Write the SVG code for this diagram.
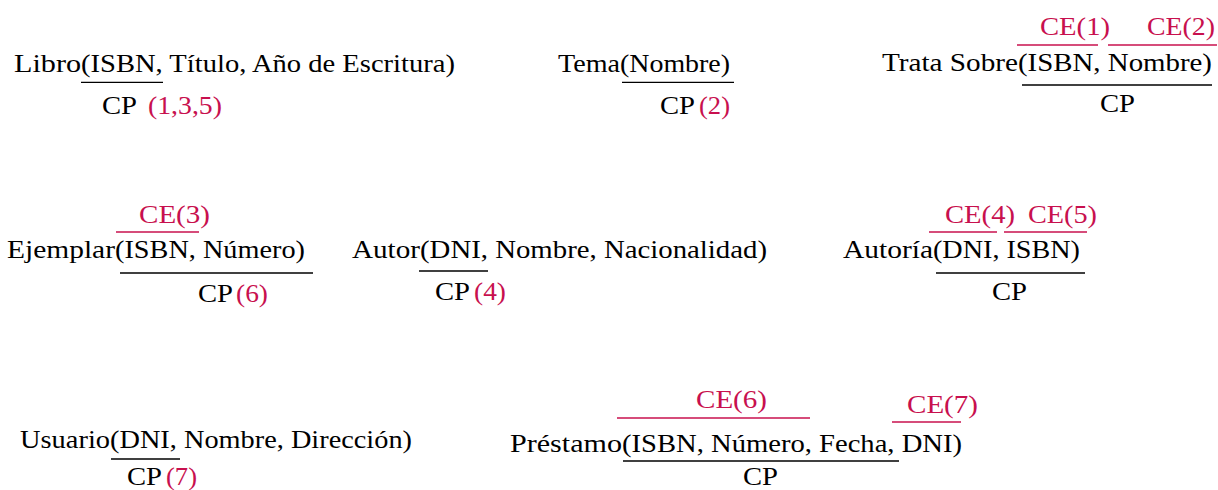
<svg xmlns="http://www.w3.org/2000/svg" width="1218" height="490" viewBox="0 0 1218 490">
<style>
text{font-size:26px;fill:#000}
text.r{fill:#C8104E}
line{stroke:#000;stroke-width:1.3}
line.r{stroke:#C8104E}
</style>
<rect width="1218" height="490" fill="#fff"/>
<g font-family="Liberation Serif, DejaVu Serif, serif">
<g id="libro">
<text x="14" y="72" textLength="67" lengthAdjust="spacingAndGlyphs">Libro</text>
<text x="81" y="72" textLength="374" lengthAdjust="spacingAndGlyphs">(ISBN, Título, Año de Escritura)</text>
<line x1="81" y1="82.3" x2="163" y2="82.3"/>
<text x="102" y="114" textLength="35" lengthAdjust="spacingAndGlyphs">CP</text>
<text class="r" x="148" y="114" textLength="74" lengthAdjust="spacingAndGlyphs">(1,3,5)</text>
</g>
<g id="tema">
<text x="558" y="72" textLength="62" lengthAdjust="spacingAndGlyphs">Tema</text>
<text x="620" y="72" textLength="110" lengthAdjust="spacingAndGlyphs">(Nombre)</text>
<line x1="622" y1="82.3" x2="734" y2="82.3"/>
<text x="660" y="114" textLength="35" lengthAdjust="spacingAndGlyphs">CP</text>
<text class="r" x="699" y="114" textLength="31" lengthAdjust="spacingAndGlyphs">(2)</text>
</g>
<g id="trata-sobre">
<text x="882" y="71" textLength="136" lengthAdjust="spacingAndGlyphs">Trata Sobre</text>
<text x="1018" y="71" textLength="194" lengthAdjust="spacingAndGlyphs">(ISBN, Nombre)</text>
<line class="r" x1="1017" y1="45" x2="1098" y2="45"/>
<line class="r" x1="1108" y1="45" x2="1217" y2="45"/>
<text class="r" x="1040" y="35" textLength="70" lengthAdjust="spacingAndGlyphs">CE(1)</text>
<text class="r" x="1147" y="35" textLength="68" lengthAdjust="spacingAndGlyphs">CE(2)</text>
<line x1="1022" y1="85" x2="1212" y2="85"/>
<text x="1100" y="112" textLength="35" lengthAdjust="spacingAndGlyphs">CP</text>
</g>
<g id="ejemplar">
<text x="7" y="258" textLength="108" lengthAdjust="spacingAndGlyphs">Ejemplar</text>
<text x="115" y="258" textLength="190" lengthAdjust="spacingAndGlyphs">(ISBN, Número)</text>
<line class="r" x1="116" y1="232" x2="199" y2="232"/>
<text class="r" x="139" y="223" textLength="71" lengthAdjust="spacingAndGlyphs">CE(3)</text>
<line x1="120" y1="273" x2="313" y2="273"/>
<text x="198" y="302" textLength="35" lengthAdjust="spacingAndGlyphs">CP</text>
<text class="r" x="236" y="302" textLength="32" lengthAdjust="spacingAndGlyphs">(6)</text>
</g>
<g id="autor">
<text x="352" y="258" textLength="68" lengthAdjust="spacingAndGlyphs">Autor</text>
<text x="420" y="258" textLength="347" lengthAdjust="spacingAndGlyphs">(DNI, Nombre, Nacionalidad)</text>
<line x1="419" y1="271" x2="488" y2="271"/>
<text x="435" y="300" textLength="35" lengthAdjust="spacingAndGlyphs">CP</text>
<text class="r" x="474" y="300" textLength="32" lengthAdjust="spacingAndGlyphs">(4)</text>
</g>
<g id="autoria">
<text x="843" y="258" textLength="90" lengthAdjust="spacingAndGlyphs">Autoría</text>
<text x="933" y="258" textLength="147" lengthAdjust="spacingAndGlyphs">(DNI, ISBN)</text>
<line class="r" x1="929" y1="232" x2="997" y2="232"/>
<line class="r" x1="1004" y1="232" x2="1087" y2="232"/>
<text class="r" x="945" y="223" textLength="70" lengthAdjust="spacingAndGlyphs">CE(4)</text>
<text class="r" x="1028" y="223" textLength="69" lengthAdjust="spacingAndGlyphs">CE(5)</text>
<line x1="936" y1="273" x2="1085" y2="273"/>
<text x="992" y="300" textLength="35" lengthAdjust="spacingAndGlyphs">CP</text>
</g>
<g id="usuario">
<text x="20" y="448" textLength="90" lengthAdjust="spacingAndGlyphs">Usuario</text>
<text x="110" y="448" textLength="302" lengthAdjust="spacingAndGlyphs">(DNI, Nombre, Dirección)</text>
<line x1="111" y1="459" x2="180" y2="459"/>
<text x="127" y="485" textLength="35" lengthAdjust="spacingAndGlyphs">CP</text>
<text class="r" x="166" y="485" textLength="31" lengthAdjust="spacingAndGlyphs">(7)</text>
</g>
<g id="prestamo">
<text x="510" y="452" textLength="112" lengthAdjust="spacingAndGlyphs">Préstamo</text>
<text x="622" y="452" textLength="340" lengthAdjust="spacingAndGlyphs">(ISBN, Número, Fecha, DNI)</text>
<line class="r" x1="617" y1="418" x2="810" y2="418"/>
<text class="r" x="696" y="408" textLength="71" lengthAdjust="spacingAndGlyphs">CE(6)</text>
<line class="r" x1="892" y1="422" x2="961" y2="422"/>
<text class="r" x="907" y="413" textLength="71" lengthAdjust="spacingAndGlyphs">CE(7)</text>
<line x1="623" y1="461" x2="899" y2="461"/>
<text x="743" y="485" textLength="35" lengthAdjust="spacingAndGlyphs">CP</text>
</g>
</g>
<g id="connectors"/>
</svg>
